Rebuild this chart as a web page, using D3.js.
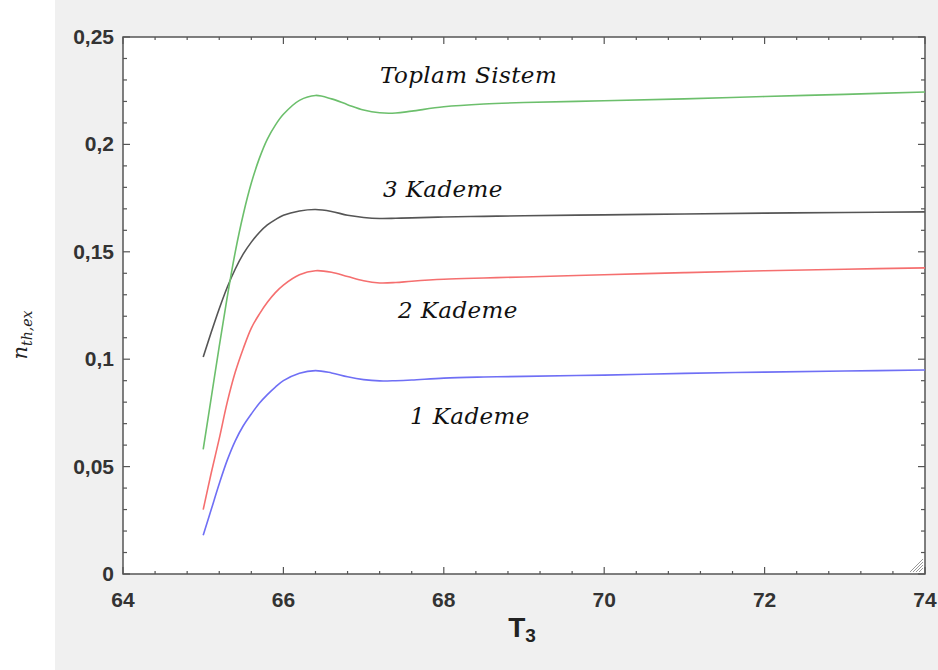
<!DOCTYPE html>
<html>
<head>
<meta charset="utf-8">
<script src="https://cdn.jsdelivr.net/npm/d3@7"></script>
<style>
  body { margin: 0; background: #fff; }
  svg { display: block; }
</style>
</head>
<body>
<div id="chart"></div>
<script>
// T3 values shared by all curves
const t3 = [65, 65.1, 65.2, 65.3, 65.4, 65.5, 65.6, 65.7, 65.8, 65.9, 66, 66.2, 66.4, 66.6, 66.8,
            67, 67.2, 67.4, 67.6, 68, 68.5, 69, 70, 71, 72, 73, 74];

const kademe1 = [0.018, 0.030, 0.042, 0.053, 0.062, 0.069, 0.0745, 0.0795, 0.0835, 0.0870, 0.0900,
                 0.0935, 0.0947, 0.0936, 0.0918, 0.0905, 0.0899, 0.0900, 0.0903, 0.0912, 0.0917,
                 0.0920, 0.0926, 0.0934, 0.0940, 0.0945, 0.0950];
const kademe2 = [0.030, 0.047, 0.063, 0.080, 0.094, 0.105, 0.1145, 0.121, 0.1265, 0.131, 0.1345,
                 0.1393, 0.1412, 0.1405, 0.1385, 0.1365, 0.1355, 0.1357, 0.1363, 0.1372, 0.1378,
                 0.1383, 0.1393, 0.1403, 0.1412, 0.1419, 0.1425];
const kademe3 = [0.101, 0.1125, 0.1235, 0.1335, 0.1420, 0.1490, 0.1545, 0.1590, 0.1625, 0.1650, 0.1670,
                 0.1690, 0.1697, 0.1688, 0.1670, 0.1660, 0.1655, 0.1656, 0.1658, 0.1662, 0.1665,
                 0.1668, 0.1672, 0.1676, 0.1680, 0.1683, 0.1686];
const toplam = [0.058, 0.082, 0.106, 0.129, 0.150, 0.1675, 0.182, 0.1935, 0.2025, 0.2090, 0.2140,
                0.2205, 0.2228, 0.2212, 0.2185, 0.2160, 0.2147, 0.2146, 0.2155, 0.2175, 0.2188,
                0.2195, 0.2203, 0.2212, 0.2223, 0.2233, 0.2244];

const xTicks = [64, 66, 68, 70, 72, 74];
const yTicks = [0, 0.05, 0.1, 0.15, 0.2, 0.25];

const series = [
  { name: '1 Kademe', values: kademe1, color: '#6f6ff5', label: [410, 424] },
  { name: '2 Kademe', values: kademe2, color: '#f56f6f', label: [398, 318] },
  { name: '3 Kademe', values: kademe3, color: '#555555', label: [383, 197] },
  { name: 'Toplam Sistem', values: toplam, color: '#6cbf6c', label: [380, 83] }
];

const W = 938, H = 670;
const plotL = 123, plotR = 925, plotT = 37, plotB = 574;

const svg = d3.select('#chart').append('svg')
  .attr('width', W)
  .attr('height', H);

// grey panel behind the plot
svg.append('rect')
  .attr('x', 55).attr('y', 0)
  .attr('width', W - 55).attr('height', H)
  .attr('fill', '#f0f0f0');

svg.append('rect')
  .attr('x', plotL).attr('y', plotT)
  .attr('width', plotR - plotL).attr('height', plotB - plotT)
  .attr('fill', '#ffffff');

const x = d3.scaleLinear().domain([64, 74]).range([plotL, plotR]);
const y = d3.scaleLinear().domain([0, 0.25]).range([plotB, plotT]);

const fmt = d => d3.format('~g')(d).replace('.', ',');

// minor + major ticks on all four sides, pointing inward
const xMinor = d3.range(64, 74.001, 0.4);
const yMinor = d3.range(0, 0.2501, 0.01);
const tickG = svg.append('g').attr('stroke', '#555').attr('stroke-width', 1.2);

xMinor.forEach(v => {
  const major = xTicks.some(t => Math.abs(t - v) < 1e-6);
  const len = major ? 7 : 3;
  tickG.append('line').attr('x1', x(v)).attr('x2', x(v)).attr('y1', plotB).attr('y2', plotB - len);
  tickG.append('line').attr('x1', x(v)).attr('x2', x(v)).attr('y1', plotT).attr('y2', plotT + len);
});
yMinor.forEach(v => {
  const major = yTicks.some(t => Math.abs(t - v) < 1e-6);
  const len = major ? 7 : 4;
  tickG.append('line').attr('y1', y(v)).attr('y2', y(v)).attr('x1', plotL).attr('x2', plotL + len);
  tickG.append('line').attr('y1', y(v)).attr('y2', y(v)).attr('x1', plotR).attr('x2', plotR - len);
});

// frame
svg.append('rect')
  .attr('x', plotL).attr('y', plotT)
  .attr('width', plotR - plotL).attr('height', plotB - plotT)
  .attr('fill', 'none')
  .attr('stroke', '#555')
  .attr('stroke-width', 1.5);

// tick labels
svg.append('g').selectAll('text')
  .data(xTicks)
  .join('text')
  .attr('x', d => x(d))
  .attr('y', 607)
  .attr('text-anchor', 'middle')
  .attr('font-family', 'Liberation Sans, Arial, sans-serif')
  .attr('font-size', 21)
  .attr('font-weight', 'bold')
  .attr('fill', '#333')
  .text(d => d);

svg.append('g').selectAll('text')
  .data(yTicks)
  .join('text')
  .attr('x', 114)
  .attr('y', d => y(d) + 7)
  .attr('text-anchor', 'end')
  .attr('font-family', 'Liberation Sans, Arial, sans-serif')
  .attr('font-size', 21)
  .attr('font-weight', 'bold')
  .attr('fill', '#333')
  .text(d => fmt(d));

// curves
const line = d3.line()
  .x((d, i) => x(t3[i]))
  .y(d => y(d))
  .curve(d3.curveCatmullRom.alpha(0.5));

svg.append('g').selectAll('path')
  .data(series)
  .join('path')
  .attr('d', d => line(d.values))
  .attr('fill', 'none')
  .attr('stroke', d => d.color)
  .attr('stroke-width', 1.6);

// curve labels
svg.append('g').selectAll('text')
  .data(series)
  .join('text')
  .attr('x', d => d.label[0])
  .attr('y', d => d.label[1])
  .attr('font-family', 'DejaVu Serif, serif')
  .attr('font-style', 'italic')
  .attr('font-size', 23)
  .attr('letter-spacing', 0.4)
  .attr('fill', '#111')
  .text(d => d.name);

// axis titles
const yl = svg.append('text')
  .attr('transform', 'translate(27,335) rotate(-90)')
  .attr('text-anchor', 'middle')
  .attr('font-family', 'DejaVu Serif, serif')
  .attr('font-style', 'italic')
  .attr('fill', '#222');
yl.append('tspan').attr('font-size', 21).text('n');
yl.append('tspan').attr('font-size', 14).attr('dy', 5).text('th,ex');

const xl = svg.append('text')
  .attr('x', 522)
  .attr('y', 637)
  .attr('text-anchor', 'middle')
  .attr('font-family', 'Liberation Sans, Arial, sans-serif')
  .attr('font-weight', 'bold')
  .attr('fill', '#222');
xl.append('tspan').attr('font-size', 28).text('T');
xl.append('tspan').attr('font-size', 19).attr('dy', 5).text('3');

// resize grip in the corner
const grip = svg.append('g').attr('stroke', '#999').attr('stroke-width', 1);
[4, 7, 10, 13].forEach(k => {
  grip.append('line')
    .attr('x1', plotR - 2 - k).attr('y1', plotB - 2)
    .attr('x2', plotR - 2).attr('y2', plotB - 2 - k);
});
</script>
</body>
</html>
